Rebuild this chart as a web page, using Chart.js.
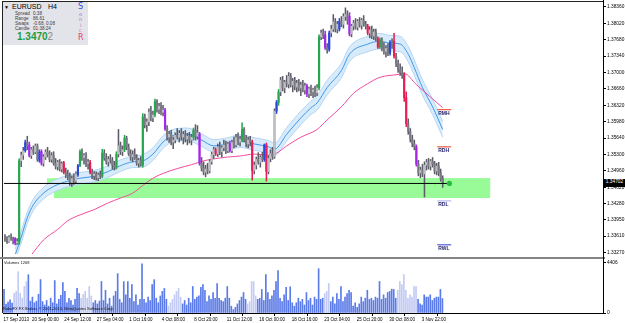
<!DOCTYPE html>
<html>
<head>
  <title>EURUSD H4</title>
  <script src="https://cdn.jsdelivr.net/npm/chart.js"></script>
  <style>
    body { margin: 0; background: #fff; font-family: 'Liberation Sans', Arial, sans-serif; }
    #wrap { position: relative; width: 625px; height: 323px; overflow: hidden; background: #fff; }
    canvas { position: absolute; left: 0; }
    .abs { position: absolute; white-space: nowrap; line-height: 1; }
    .line { position: absolute; }
    #info { position: absolute; left: 3px; top: 2px; width: 85px; height: 43px; background: #e3e3ea; }
    .lbl { position: absolute; font-size: 4.6px; color: #3a3a3a; line-height: 1; white-space: nowrap; }
    .lvl { position: absolute; font-size: 5px; font-weight: bold; color: #22226e; line-height: 1; }
    .sonic { position: absolute; left: 75px; line-height: 1; font-family: 'DejaVu Sans', sans-serif; }
  </style>
</head>
<body>
<div id="wrap">
  <canvas id="priceChart" width="625" height="258" style="top:0"></canvas>
  <canvas id="volChart" width="625" height="64" style="top:259px"></canvas>

  <div class="line" style="left:2px;top:1px;width:1px;height:312px;background:#222"></div>
  <div class="line" style="left:2px;top:1px;width:602px;height:1px;background:#222"></div>
  <div class="line" style="left:0;top:257px;width:605px;height:2px;background:#858585"></div>
  <div class="line" style="left:603px;top:0;width:1px;height:314px;background:#000"></div>

  <div id="info">
    <div class="abs" style="left:1px;top:3px;font-size:5px">&#9660;</div>
    <div class="abs" style="left:9px;top:1px;font-size:7px">EURUSD</div>
    <div class="abs" style="left:45px;top:1px;font-size:7px">H4</div>
    <div class="lbl" style="left:12px;top:10px">Spread</div><div class="lbl" style="left:30px;top:10px">0.38</div>
    <div class="lbl" style="left:12px;top:15px">Range</div><div class="lbl" style="left:30px;top:15px">86.61</div>
    <div class="lbl" style="left:12px;top:20px">Swaps</div><div class="lbl" style="left:30px;top:20px">-0.68, 0.08</div>
    <div class="lbl" style="left:12px;top:25px">Candle</div><div class="lbl" style="left:30px;top:25px">01:38:24</div>
    <div class="abs" style="left:14px;top:30px;font-size:10px;font-weight:600;color:#1f9b3d">1.3470<span style="color:#8a8a8a;font-weight:normal">2</span></div>
    <div class="sonic" style="top:1px;font-size:8px;color:#2b4ee0">S</div>
    <div class="sonic" style="top:10px;font-size:5px;color:#8a6fd0;left:76px">o</div>
    <div class="sonic" style="top:15px;font-size:5px;color:#b070c0;left:76px">n</div>
    <div class="sonic" style="top:21px;font-size:5px;color:#cc6aa8;left:77px">i</div>
    <div class="sonic" style="top:26px;font-size:5px;color:#d8709a;left:76px">c</div>
    <div class="sonic" style="top:32px;font-size:8px;color:#e8386a">R</div>
  </div>

  <div class="abs" style="left:4px;top:261px;font-size:4px;color:#111">Volumes 1268</div>
  <div class="abs" style="left:3px;top:307px;font-size:4px;color:#111">RoboFX FX Broker, &copy; 2001-2013, MetaQuotes Software Corp.</div>
  <div id="badge" class="abs" style="left:604px;width:21px;height:7px;background:#000;color:#fff;font-size:4.8px;padding-top:1px;text-align:center">1.34702</div>
</div>
<script>
  // H4 candles, [open, high, low, close]
  const ohlc = [
    [1.3358,1.3364,1.3350,1.3354],[1.3354,1.3360,1.3346,1.3350],[1.3350,1.3362,1.3348,1.3358],[1.3358,1.3366,1.3352,1.3355],
    [1.3355,1.3359,1.3345,1.3352],[1.3356,1.3358,1.3343,1.3347],[1.3347,1.3356,1.3344,1.3350],[1.3348,1.3521,1.3344,1.3517],
    [1.3517,1.3535,1.3505,1.3529],[1.3529,1.3545,1.3520,1.3538],[1.3538,1.3560,1.3535,1.3555],[1.3555,1.3568,1.3540,1.3548],
    [1.3550,1.3556,1.3525,1.3528],[1.3528,1.3545,1.3522,1.3540],[1.3540,1.3548,1.3530,1.3535],[1.3535,1.3552,1.3532,1.3548],
    [1.3548,1.3552,1.3516,1.3520],[1.3518,1.3540,1.3514,1.3536],[1.3536,1.3540,1.3508,1.3512],[1.3512,1.3530,1.3506,1.3525],
    [1.3525,1.3540,1.3520,1.3535],[1.3535,1.3545,1.3525,1.3530],[1.3530,1.3538,1.3515,1.3520],[1.3520,1.3534,1.3514,1.3528],
    [1.3528,1.3536,1.3508,1.3512],[1.3512,1.3522,1.3500,1.3505],[1.3505,1.3518,1.3498,1.3514],[1.3514,1.3520,1.3496,1.3500],
    [1.3500,1.3515,1.3494,1.3511],[1.3513,1.3516,1.3490,1.3493],[1.3493,1.3502,1.3482,1.3488],[1.3488,1.3498,1.3478,1.3484],
    [1.3484,1.3492,1.3466,1.3472],[1.3472,1.3486,1.3464,1.3480],[1.3480,1.3490,1.3468,1.3475],[1.3475,1.3494,1.3470,1.3490],
    [1.3488,1.3510,1.3485,1.3507],[1.3507,1.3540,1.3505,1.3536],[1.3536,1.3542,1.3518,1.3524],[1.3524,1.3532,1.3510,1.3528],
    [1.3528,1.3534,1.3505,1.3512],[1.3512,1.3520,1.3500,1.3514],[1.3514,1.3518,1.3490,1.3493],[1.3493,1.3500,1.3480,1.3486],
    [1.3486,1.3495,1.3478,1.3490],[1.3490,1.3494,1.3477,1.3482],[1.3482,1.3492,1.3476,1.3488],[1.3488,1.3496,1.3480,1.3485],
    [1.3485,1.3541,1.3482,1.3533],[1.3533,1.3540,1.3518,1.3522],[1.3522,1.3532,1.3510,1.3515],[1.3515,1.3526,1.3506,1.3520],
    [1.3520,1.3530,1.3512,1.3518],[1.3518,1.3524,1.3500,1.3508],[1.3508,1.3516,1.3498,1.3504],[1.3504,1.3536,1.3500,1.3531],
    [1.3531,1.3582,1.3525,1.3548],[1.3548,1.3556,1.3530,1.3536],[1.3536,1.3548,1.3528,1.3540],[1.3540,1.3570,1.3536,1.3564],
    [1.3564,1.3568,1.3540,1.3545],[1.3545,1.3552,1.3528,1.3532],[1.3532,1.3540,1.3518,1.3525],[1.3525,1.3538,1.3515,1.3530],
    [1.3530,1.3542,1.3520,1.3523],[1.3523,1.3530,1.3508,1.3512],[1.3512,1.3522,1.3504,1.3518],[1.3518,1.3526,1.3506,1.3510],
    [1.3508,1.3615,1.3504,1.3608],[1.3608,1.3614,1.3585,1.3592],[1.3592,1.3604,1.3578,1.3598],[1.3598,1.3625,1.3590,1.3618],
    [1.3618,1.3630,1.3600,1.3606],[1.3606,1.3620,1.3598,1.3612],[1.3612,1.3645,1.3608,1.3640],[1.3640,1.3644,1.3618,1.3624],
    [1.3624,1.3636,1.3615,1.3630],[1.3630,1.3638,1.3612,1.3618],[1.3618,1.3632,1.3610,1.3622],[1.3622,1.3626,1.3580,1.3584],
    [1.3584,1.3590,1.3560,1.3566],[1.3566,1.3578,1.3555,1.3572],[1.3572,1.3580,1.3550,1.3556],[1.3556,1.3566,1.3542,1.3560],
    [1.3560,1.3575,1.3554,1.3570],[1.3570,1.3584,1.3562,1.3566],[1.3566,1.3580,1.3556,1.3574],[1.3574,1.3584,1.3560,1.3566],
    [1.3566,1.3578,1.3552,1.3572],[1.3572,1.3580,1.3556,1.3562],[1.3562,1.3574,1.3550,1.3568],[1.3568,1.3576,1.3554,1.3560],
    [1.3560,1.3572,1.3550,1.3566],[1.3566,1.3585,1.3560,1.3580],[1.3580,1.3592,1.3560,1.3568],[1.3568,1.3590,1.3562,1.3575],
    [1.3572,1.3576,1.3508,1.3512],[1.3512,1.3524,1.3496,1.3502],[1.3502,1.3515,1.3488,1.3494],[1.3494,1.3508,1.3484,1.3500],
    [1.3500,1.3512,1.3490,1.3496],[1.3496,1.3520,1.3492,1.3515],[1.3515,1.3535,1.3510,1.3530],[1.3530,1.3545,1.3522,1.3540],
    [1.3540,1.3544,1.3528,1.3532],[1.3532,1.3552,1.3526,1.3546],[1.3546,1.3556,1.3530,1.3536],[1.3536,1.3548,1.3525,1.3544],
    [1.3544,1.3560,1.3538,1.3550],[1.3550,1.3558,1.3532,1.3538],[1.3538,1.3556,1.3534,1.3552],[1.3552,1.3558,1.3535,1.3538],
    [1.3538,1.3560,1.3534,1.3555],[1.3555,1.3566,1.3544,1.3550],[1.3550,1.3572,1.3546,1.3565],[1.3565,1.3575,1.3550,1.3556],
    [1.3556,1.3568,1.3548,1.3562],[1.3560,1.3596,1.3556,1.3582],[1.3582,1.3586,1.3556,1.3562],[1.3562,1.3570,1.3546,1.3552],
    [1.3552,1.3566,1.3544,1.3560],[1.3560,1.3568,1.3548,1.3556],[1.3556,1.3560,1.3477,1.3497],[1.3497,1.3515,1.3490,1.3508],
    [1.3508,1.3525,1.3500,1.3520],[1.3520,1.3534,1.3510,1.3514],[1.3514,1.3528,1.3504,1.3524],[1.3524,1.3535,1.3515,1.3520],
    [1.3520,1.3552,1.3516,1.3550],[1.3550,1.3554,1.3475,1.3495],[1.3495,1.3528,1.3490,1.3522],[1.3522,1.3540,1.3515,1.3532],
    [1.3532,1.3545,1.3520,1.3526],[1.3526,1.3625,1.3522,1.3620],[1.3620,1.3642,1.3615,1.3638],[1.3638,1.3665,1.3632,1.3660],
    [1.3660,1.3690,1.3652,1.3684],[1.3684,1.3692,1.3662,1.3668],[1.3668,1.3684,1.3658,1.3680],[1.3680,1.3694,1.3670,1.3676],
    [1.3676,1.3700,1.3668,1.3692],[1.3692,1.3698,1.3670,1.3674],[1.3674,1.3688,1.3660,1.3682],[1.3682,1.3690,1.3664,1.3670],
    [1.3670,1.3684,1.3660,1.3678],[1.3678,1.3686,1.3662,1.3668],[1.3668,1.3680,1.3652,1.3674],[1.3674,1.3684,1.3660,1.3664],
    [1.3664,1.3678,1.3655,1.3672],[1.3672,1.3676,1.3650,1.3656],[1.3656,1.3670,1.3648,1.3666],[1.3666,1.3674,1.3652,1.3660],
    [1.3660,1.3668,1.3648,1.3664],[1.3664,1.3672,1.3650,1.3658],[1.3658,1.3675,1.3652,1.3668],[1.3668,1.3778,1.3664,1.3774],
    [1.3774,1.3788,1.3768,1.3782],[1.3782,1.3790,1.3770,1.3776],[1.3778,1.3786,1.3748,1.3752],[1.3752,1.3760,1.3740,1.3746],
    [1.3748,1.3786,1.3744,1.3782],[1.3782,1.3798,1.3774,1.3790],[1.3790,1.3820,1.3785,1.3805],[1.3805,1.3812,1.3784,1.3790],
    [1.3790,1.3806,1.3782,1.3800],[1.3790,1.3812,1.3786,1.3806],[1.3806,1.3816,1.3795,1.3800],[1.3800,1.3822,1.3792,1.3816],
    [1.3816,1.3834,1.3808,1.3820],[1.3820,1.3828,1.3800,1.3808],[1.3816,1.3824,1.3776,1.3780],[1.3780,1.3800,1.3774,1.3796],
    [1.3796,1.3808,1.3788,1.3802],[1.3802,1.3812,1.3790,1.3794],[1.3794,1.3810,1.3788,1.3806],[1.3806,1.3814,1.3794,1.3798],
    [1.3798,1.3812,1.3790,1.3808],[1.3808,1.3818,1.3796,1.3800],[1.3800,1.3806,1.3790,1.3796],[1.3796,1.3800,1.3778,1.3782],
    [1.3782,1.3795,1.3772,1.3788],[1.3788,1.3796,1.3770,1.3776],[1.3776,1.3790,1.3768,1.3784],[1.3784,1.3790,1.3766,1.3772],
    [1.3770,1.3774,1.3750,1.3753],[1.3753,1.3772,1.3750,1.3768],[1.3768,1.3772,1.3745,1.3750],[1.3750,1.3762,1.3738,1.3744],
    [1.3744,1.3756,1.3732,1.3750],[1.3750,1.3760,1.3735,1.3740],[1.3740,1.3766,1.3736,1.3762],[1.3762,1.3770,1.3750,1.3756],
    [1.3765,1.3781,1.3730,1.3734],[1.3734,1.3740,1.3712,1.3718],[1.3718,1.3726,1.3700,1.3706],[1.3706,1.3718,1.3694,1.3700],
    [1.3700,1.3712,1.3688,1.3694],[1.3696,1.3700,1.3640,1.3648],[1.3648,1.3660,1.3588,1.3594],[1.3594,1.3604,1.3572,1.3578],
    [1.3578,1.3584,1.3556,1.3562],[1.3562,1.3570,1.3546,1.3552],[1.3552,1.3560,1.3540,1.3546],[1.3546,1.3550,1.3506,1.3510],
    [1.3510,1.3518,1.3486,1.3492],[1.3492,1.3504,1.3482,1.3498],[1.3498,1.3510,1.3484,1.3490],[1.3490,1.3515,1.3442,1.3508],
    [1.3508,1.3520,1.3498,1.3514],[1.3514,1.3522,1.3500,1.3506],[1.3506,1.3520,1.3498,1.3516],[1.3516,1.3524,1.3504,1.3510],
    [1.3510,1.3516,1.3490,1.3496],[1.3496,1.3512,1.3488,1.3506],[1.3506,1.3514,1.3486,1.3492],[1.3492,1.3500,1.3475,1.3480],
    [1.3480,1.3486,1.3462,1.34702]
  ];

  // coloured (price/volume) candles: g climax up, r climax down, b rising up, m rising down
  const pvaBars  = [5,7,10,12,17,18,29,36,37,42, 48,55,59,68,74,79,93,96,104,111, 117,122,128,129,134,135,149,155,158,160, 165,170,179,184,185,190,192,197,198,203];
  const pvaKinds = ['m','g','b','m','b','m','r','b','g','r', 'g','g','g','g','g','m','g','m','r','m', 'g','r','b','r','b','g','m','g','m','b', 'b','m','r','r','g','b','r','r','r','m'];

  const volumes = [
    2070,780,950,1150,870,1730,1900,3630,1730,1300,
    2330,2760,3370,1040,1400,900,1040,1650,2940,1000,
    700,1100,600,1300,900,2850,800,1200,1550,2680,
    1900,900,1300,1100,700,1200,2160,1700,1300,1650,
    1900,1300,2330,1500,900,1100,800,1050,2770,1100,
    2000,800,1300,600,1500,1900,3460,1200,900,2760,
    1600,2760,1300,2500,1000,1600,700,1200,4320,1200,
    900,1400,1100,2500,2930,1300,900,1500,1900,2160,
    1200,600,900,1200,1600,1900,2160,1400,800,1100,
    700,1300,900,2330,1200,1400,1500,2260,2500,2000,
    1000,1500,1200,1800,1300,2590,1300,1100,1000,1300,
    2330,1300,600,300,500,800,1100,1400,1800,1200,
    800,1000,2760,2760,1500,1200,1300,2070,1100,3370,
    1800,1200,1500,2000,2770,3720,1300,1000,1600,2250,
    1100,2300,900,600,900,1300,1000,1200,700,1800,
    1100,1300,700,1400,1200,3890,1200,1300,1700,1900,
    2590,1000,1400,800,1700,1200,2330,1000,1400,1700,
    2000,1800,600,900,500,800,1400,1000,1300,2000,
    1200,1300,1100,1400,1300,2770,1200,1600,1300,1800,
    1900,2100,2070,1300,2000,2770,2500,3370,2000,1300,
    1600,1400,2330,2330,1200,800,700,1600,1400,1400,
    1600,1100,1300,1400,1400,2070,1268
  ];
  const lightVolBars = [5,6,7,8,9,10,11, 38,39,40,41,42,43, 81,82,83,84,85,86,87, 120,121,122,123,124, 158,159,160, 194,195,196,197,198,199,200,201,202,203];

  // moving-average envelope (bar index, price)
  const bandX     = [5,8,11,14,19,24,31,37,44,51,57,63,68,73,78,82,90,97,103,110,116,123,130,133,139,146,151,154,159,166,170,179,185,190,195,199,202,206,211,216];
  const bandMid   = [1.3322,1.3359,1.3399,1.3426,1.3450,1.3464,1.3475,1.3481,1.3485,1.3495,1.3507,1.3515,1.3517,1.3531,1.3556,1.3568,1.3572,1.3560,1.3548,1.3552,1.3558,1.3552,1.3546,1.3541,1.3572,1.3606,1.3627,1.3637,1.3669,1.3704,1.3738,1.3759,1.3765,1.3761,1.3759,1.3738,1.3710,1.3669,1.3629,1.3582];
  const bandUpper = [1.3334,1.3371,1.3411,1.3438,1.3462,1.3476,1.3487,1.3493,1.3497,1.3507,1.3519,1.3527,1.3530,1.3544,1.3569,1.3581,1.3585,1.3573,1.3561,1.3565,1.3571,1.3565,1.3559,1.3554,1.3586,1.3620,1.3641,1.3652,1.3684,1.3719,1.3753,1.3775,1.3781,1.3777,1.3775,1.3754,1.3726,1.3685,1.3645,1.3598];
  const bandLower = [1.3310,1.3347,1.3387,1.3414,1.3438,1.3452,1.3463,1.3469,1.3473,1.3483,1.3495,1.3503,1.3504,1.3518,1.3543,1.3555,1.3559,1.3547,1.3535,1.3539,1.3545,1.3539,1.3533,1.3528,1.3558,1.3592,1.3613,1.3622,1.3654,1.3689,1.3723,1.3743,1.3749,1.3745,1.3743,1.3722,1.3694,1.3653,1.3613,1.3566];

  const maX   = [13,19,26,31,37,44,51,57,63,68,73,78,85,92,98,103,110,116,123,130,134,139,146,154,159,166,172,179,185,194,197,203,216];
  const maVal = [1.3322,1.3353,1.3375,1.3393,1.3405,1.3416,1.3430,1.3440,1.3450,1.3466,1.3481,1.3491,1.3501,1.3509,1.3517,1.3521,1.3525,1.3527,1.3531,1.3529,1.3533,1.3548,1.3566,1.3582,1.3602,1.3629,1.3657,1.3677,1.3690,1.3696,1.3698,1.3675,1.3627];

  // support zone and levels
  const zoneStarts  = [20.7, 24.1];
  const zoneBottoms = [1.3456, 1.3440];
  const zoneTop = 1.3481;
  const zoneEnd = 239.4;
  const bidPrice = 1.34702;
  const bidEnd = 219.3;
  const levelNames  = ['RMH', 'RDH', 'RDL', 'RWL'];
  const levelPrices = [1.3623, 1.3546, 1.3434, 1.3343];
  const levelColors = ['#ee3a1c', '#ee3a1c', '#a9a9ef', '#2f3fd0'];
  const levelFrom = 213.3, levelTo = 220.2;

  const priceTicks = [1.3836,1.3802,1.3768,1.3734,1.3700,1.3666,1.3632,1.3598,1.3564,1.3530,1.3496,1.3462,1.3428,1.3395,1.3361,1.3327];
  const timeTickIdx = [-0.49, 13.5, 29.5, 45.5, 61.5, 77.5, 93.5, 109.5, 125.5, 141.5, 157.5, 173.5, 189.5, 205.5];
  const timeLabels = ['17 Sep 2013','20 Sep 00:00','24 Sep 12:00','27 Sep 04:00','1 Oct 16:00','4 Oct 08:00','8 Oct 20:00',
                      '11 Oct 12:00','16 Oct 00:00','18 Oct 16:00','23 Oct 04:00','25 Oct 20:00','30 Oct 08:00','3 Nov 22:00'];

  const xMin = -0.49, xMax = 295.1;
  const axisFont = { family: 'Liberation Sans', size: 4.8 };

  const pvaColor = { g: '#27a650', r: '#ea1c55', b: '#2a48dc', m: '#a426ea' };
  const kinds = ohlc.map((c, i) => {
    const k = pvaBars.indexOf(i);
    return k >= 0 ? pvaKinds[k] : (c[3] >= c[0] ? 'up' : 'dn');
  });
  const bodyColors = kinds.map(k => pvaColor[k] || (k === 'up' ? '#bdbdc2' : '#7a7a84'));
  const wickColors = kinds.map(k => pvaColor[k] || '#5c5c68');

  const zonePlugin = {
    id: 'zone',
    beforeDatasetsDraw(chart) {
      const { ctx, scales: { x, y } } = chart;
      ctx.save();
      ctx.fillStyle = '#98fb98';
      zoneStarts.forEach((s, k) => {
        const x0 = x.getPixelForValue(s), x1 = x.getPixelForValue(zoneEnd);
        const y0 = y.getPixelForValue(zoneTop), y1 = y.getPixelForValue(zoneBottoms[k]);
        ctx.fillRect(x0, y0, x1 - x0, y1 - y0);
      });
      ctx.restore();
    }
  };

  const lineOpts = { type: 'line', pointRadius: 0, borderWidth: 1, cubicInterpolationMode: 'monotone', fill: false };
  const levelSets = levelNames.map((n, k) => ({
    type: 'line', order: 1, pointRadius: 0, borderWidth: 1, borderColor: levelColors[k],
    data: [{ x: levelFrom, y: levelPrices[k] }, { x: levelTo, y: levelPrices[k] }]
  }));

  const priceChart = new Chart(document.getElementById('priceChart'), {
    type: 'bar',
    data: {
      datasets: [
        Object.assign({}, lineOpts, { order: 20, borderColor: '#b4d5f3', backgroundColor: '#d8ebfb', fill: '+1',
          data: bandX.map((x, i) => ({ x: x, y: bandUpper[i] })) }),
        Object.assign({}, lineOpts, { order: 19, borderColor: '#b4d5f3',
          data: bandX.map((x, i) => ({ x: x, y: bandLower[i] })) }),
        Object.assign({}, lineOpts, { order: 18, borderColor: '#3f98ea',
          data: bandX.map((x, i) => ({ x: x, y: bandMid[i] })) }),
        Object.assign({}, lineOpts, { order: 17, borderColor: '#f24c9f',
          data: maX.map((x, i) => ({ x: x, y: maVal[i] })) }),
        { type: 'bar', order: 6, grouped: false, barThickness: 0.9, backgroundColor: wickColors,
          data: ohlc.map((c, i) => ({ x: i, y: [c[2], c[1]] })) },
        { type: 'bar', order: 5, grouped: false, barThickness: 1.5, minBarLength: 1, backgroundColor: bodyColors,
          data: ohlc.map((c, i) => ({ x: i, y: [c[0], c[3]] })) },
        { type: 'line', order: 3, pointRadius: 0, borderWidth: 1, borderColor: '#000',
          data: [{ x: xMin, y: bidPrice }, { x: bidEnd, y: bidPrice }] },
        { type: 'line', order: 2, showLine: false, pointRadius: 2.6, pointBorderWidth: 0,
          pointBackgroundColor: '#22c13e', data: [{ x: bidEnd, y: bidPrice }] },
        ...levelSets
      ]
    },
    options: {
      animation: false, responsive: false, maintainAspectRatio: false,
      layout: { padding: { left: 3, top: 2, right: 0, bottom: 1 } },
      plugins: { legend: { display: false }, tooltip: { enabled: false } },
      scales: {
        x: { type: 'linear', min: xMin, max: xMax, offset: false, display: false },
        y: {
          position: 'right', min: 1.3324, max: 1.3842, beginAtZero: false,
          afterBuildTicks: s => { s.ticks = priceTicks.map(v => ({ value: v })); },
          afterFit: s => { s.width = 22; },
          ticks: { font: axisFont, color: '#000', padding: 1, callback: v => v.toFixed(5) },
          grid: { drawOnChartArea: false, tickLength: 3, color: '#000' },
          border: { color: '#000' }
        }
      }
    },
    plugins: [zonePlugin]
  });

  const volChart = new Chart(document.getElementById('volChart'), {
    type: 'bar',
    data: {
      datasets: [{
        barThickness: 1,
        backgroundColor: volumes.map((v, i) => lightVolBars.includes(i) ? '#c3cbf3' : '#5b7be8'),
        data: volumes.map((v, i) => ({ x: i, y: v }))
      }]
    },
    options: {
      animation: false, responsive: false, maintainAspectRatio: false,
      layout: { padding: { left: 3, top: 3, right: 0, bottom: 0 } },
      plugins: { legend: { display: false }, tooltip: { enabled: false } },
      scales: {
        x: {
          type: 'linear', min: xMin, max: xMax, offset: false,
          afterBuildTicks: s => { s.ticks = timeTickIdx.map(v => ({ value: v })); },
          afterFit: s => { s.height = 10; },
          ticks: { font: { family: 'Liberation Sans', size: 4.5 }, color: '#000', autoSkip: false, maxRotation: 0,
                   align: 'start', labelOffset: 0.5, padding: 1, callback: (v, i) => timeLabels[i] },
          grid: { drawOnChartArea: false, tickLength: 3, color: '#000' },
          border: { color: '#000' }
        },
        y: {
          position: 'right', min: 0, max: 4406,
          afterBuildTicks: s => { s.ticks = [{ value: 0 }, { value: 4406 }]; },
          afterFit: s => { s.width = 22; },
          ticks: { font: axisFont, color: '#000', padding: 1, callback: v => String(v) },
          grid: { drawOnChartArea: false, tickLength: 3, color: '#000' },
          border: { color: '#000' }
        }
      }
    }
  });

  // level captions and the price badge, placed with the chart's own scales
  const wrap = document.getElementById('wrap');
  const xAt = v => priceChart.scales.x.getPixelForValue(v);
  const yAt = v => priceChart.scales.y.getPixelForValue(v);
  levelNames.forEach((name, k) => {
    const el = document.createElement('div');
    el.className = 'lvl';
    el.textContent = name;
    el.style.left = (xAt(levelFrom) + 1) + 'px';
    el.style.top = (yAt(levelPrices[k]) + 1) + 'px';
    wrap.appendChild(el);
  });
  document.getElementById('badge').style.top = (yAt(bidPrice) - 4) + 'px';
</script>
</body>
</html>
